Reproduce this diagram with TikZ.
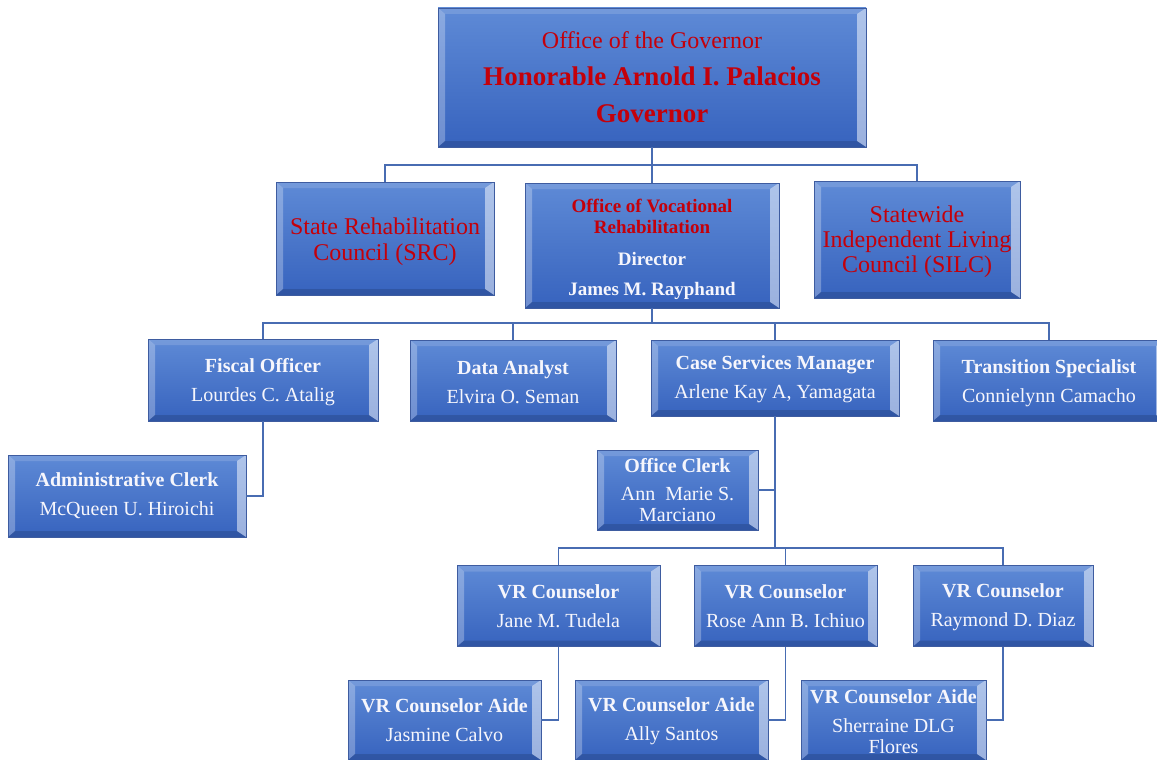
\documentclass[tikz,border=0pt]{standalone}
\usepackage{fontspec}
\setmainfont{Liberation Serif}
\usetikzlibrary{calc}
\definecolor{facetop}{RGB}{94,138,214}
\definecolor{facebot}{RGB}{55,99,190}
\definecolor{boxedge}{RGB}{62,92,160}
\definecolor{connc}{RGB}{72,108,178}
\definecolor{txtwhite}{RGB}{246,246,252}
\definecolor{txtred}{RGB}{196,0,10}
\tikzset{
  bevel/.style={path picture={
    \coordinate (pnw) at (path picture bounding box.north west);
    \coordinate (pne) at (path picture bounding box.north east);
    \coordinate (psw) at (path picture bounding box.south west);
    \coordinate (pse) at (path picture bounding box.south east);
    \fill[white,opacity=0.5] (pne) -- (pse) -- ([shift={(-9pt,6pt)}]pse) -- ([shift={(-9pt,-6pt)}]pne) -- cycle;
    \fill[white,opacity=0.28] (pnw) -- (psw) -- ([shift={(7pt,6pt)}]psw) -- ([shift={(7pt,-6pt)}]pnw) -- cycle;
    \fill[white,opacity=0.14] (pnw) -- (pne) -- ([shift={(-9pt,-6pt)}]pne) -- ([shift={(7pt,-6pt)}]pnw) -- cycle;
    \fill[black,opacity=0.14] (psw) -- (pse) -- ([shift={(-9pt,6pt)}]pse) -- ([shift={(7pt,6pt)}]psw) -- cycle;
  }},
  orgbox/.style={draw=boxedge, line width=0.7pt, top color=facetop, bottom color=facebot,
    align=center, inner sep=2pt, bevel},
  lvl/.style={orgbox, text=txtwhite, font=\fontsize{20}{29}\selectfont},
  redbox/.style={orgbox, text=txtred, font=\fontsize{24}{26}\selectfont},
  conn/.style={draw=connc, line width=1.8pt}
}
\newcommand{\topstrut}[1]{\rule{0pt}{#1}}
\begin{document}
\begin{tikzpicture}[x=1pt,y=-1pt]
\useasboundingbox (0,0) rectangle (1157,760);
% top level
\node[orgbox, text=txtred, minimum width=428, minimum height=139,
  font=\fontsize{27}{37}\selectfont\bfseries] (gov) at (652,77.5)
  {{\mdseries\fontsize{24}{37}\selectfont Office of the Governor}\\Honorable Arnold I. Palacios\\Governor};
% second level
\node[redbox, minimum width=218, minimum height=113] (src) at (385,238.5)
  {\topstrut{24pt}State Rehabilitation\\Council (SRC)};
\node[orgbox, minimum width=254, minimum height=125, font=\fontsize{19}{21}\selectfont\bfseries] (ovr) at (652,245.5)
  {\topstrut{21pt}\textcolor{txtred}{Office of Vocational}\\\textcolor{txtred}{Rehabilitation}\\[11pt]
   \textcolor{txtwhite}{Director}\\[9pt]\textcolor{txtwhite}{James M. Rayphand}};
\node[orgbox, text=txtred, font=\fontsize{24}{25}\selectfont, minimum width=206, minimum height=117] (silc) at (917,239.5)
  {\topstrut{22pt}Statewide\\Independent Living\\Council (SILC)};
% third level
\node[lvl, minimum width=230, minimum height=82] (fisc) at (263,380)
  {\topstrut{19pt}\textbf{Fiscal Officer}\\Lourdes C. Atalig};
\node[lvl, minimum width=206, minimum height=81] (data) at (513,380.5)
  {\topstrut{17pt}\textbf{Data Analyst}\\Elvira O. Seman};
\node[lvl, minimum width=248, minimum height=76] (csm) at (775,378)
  {\topstrut{17pt}\textbf{Case Services Manager}\\Arlene Kay A, Yamagata};
\node[lvl, minimum width=232, minimum height=81] (trans) at (1049,380.5)
  {\topstrut{19pt}\textbf{Transition Specialist}\\Connielynn Camacho};
\node[lvl, minimum width=238, minimum height=82] (admin) at (127,496)
  {\textbf{Administrative Clerk}\\McQueen U. Hiroichi};
\node[lvl, minimum width=161, minimum height=80, font=\fontsize{20}{21}\selectfont] (oclerk) at (677.5,490)
  {\textbf{Office Clerk}\\[7pt]Ann\ \ Marie S.\\Marciano};
% counselors
\node[lvl, minimum width=203, minimum height=81] (vr1) at (558.5,606)
  {\textbf{VR Counselor}\\Jane M. Tudela};
\node[lvl, minimum width=183, minimum height=81] (vr2) at (785.5,606)
  {\textbf{VR Counselor}\\Rose Ann B. Ichiuo};
\node[lvl, minimum width=180, minimum height=81] (vr3) at (1003,606)
  {\topstrut{17pt}\textbf{VR Counselor}\\Raymond D. Diaz};
% aides
\node[lvl, minimum width=193, minimum height=80] (aide1) at (444.5,720)
  {\textbf{VR Counselor Aide}\\Jasmine Calvo};
\node[lvl, minimum width=193, minimum height=80] (aide2) at (671.5,720)
  {\topstrut{16pt}\textbf{VR Counselor Aide}\\Ally Santos};
\node[lvl, minimum width=185, minimum height=80, font=\fontsize{20}{21}\selectfont] (aide3) at (893.5,720)
  {\topstrut{17pt}\textbf{VR Counselor Aide}\\[8pt]Sherraine DLG\\Flores};
% junction levels
\coordinate (j1) at (0,165);
\coordinate (j2) at (0,323);
\coordinate (j3) at (0,548);
% connectors
\draw[conn] (gov.south) -- (ovr.north);
\draw[conn] (src.north) -- (src.north |- j1) -- (silc.north |- j1) -- (silc.north);
\draw[conn] (ovr.south) -- (ovr.south |- j2);
\draw[conn] (fisc.north) -- (fisc.north |- j2) -- (trans.north |- j2) -- (trans.north);
\draw[conn] (data.north) -- (data.north |- j2);
\draw[conn] (csm.north) -- (csm.north |- j2);
\draw[conn] (fisc.south) |- (admin.east);
\draw[conn] (csm.south) -- (csm.south |- j3);
\draw[conn] (oclerk.east) -- (oclerk.east -| csm.south);
\draw[conn] (vr1.north) -- (vr1.north |- j3) -- (vr3.north |- j3) -- (vr3.north);
\draw[conn] (vr2.north) -- (vr2.north |- j3);
\draw[conn] (vr1.south) |- (aide1.east);
\draw[conn] (vr2.south) |- (aide2.east);
\draw[conn] (vr3.south) |- (aide3.east);
\end{tikzpicture}
\end{document}
